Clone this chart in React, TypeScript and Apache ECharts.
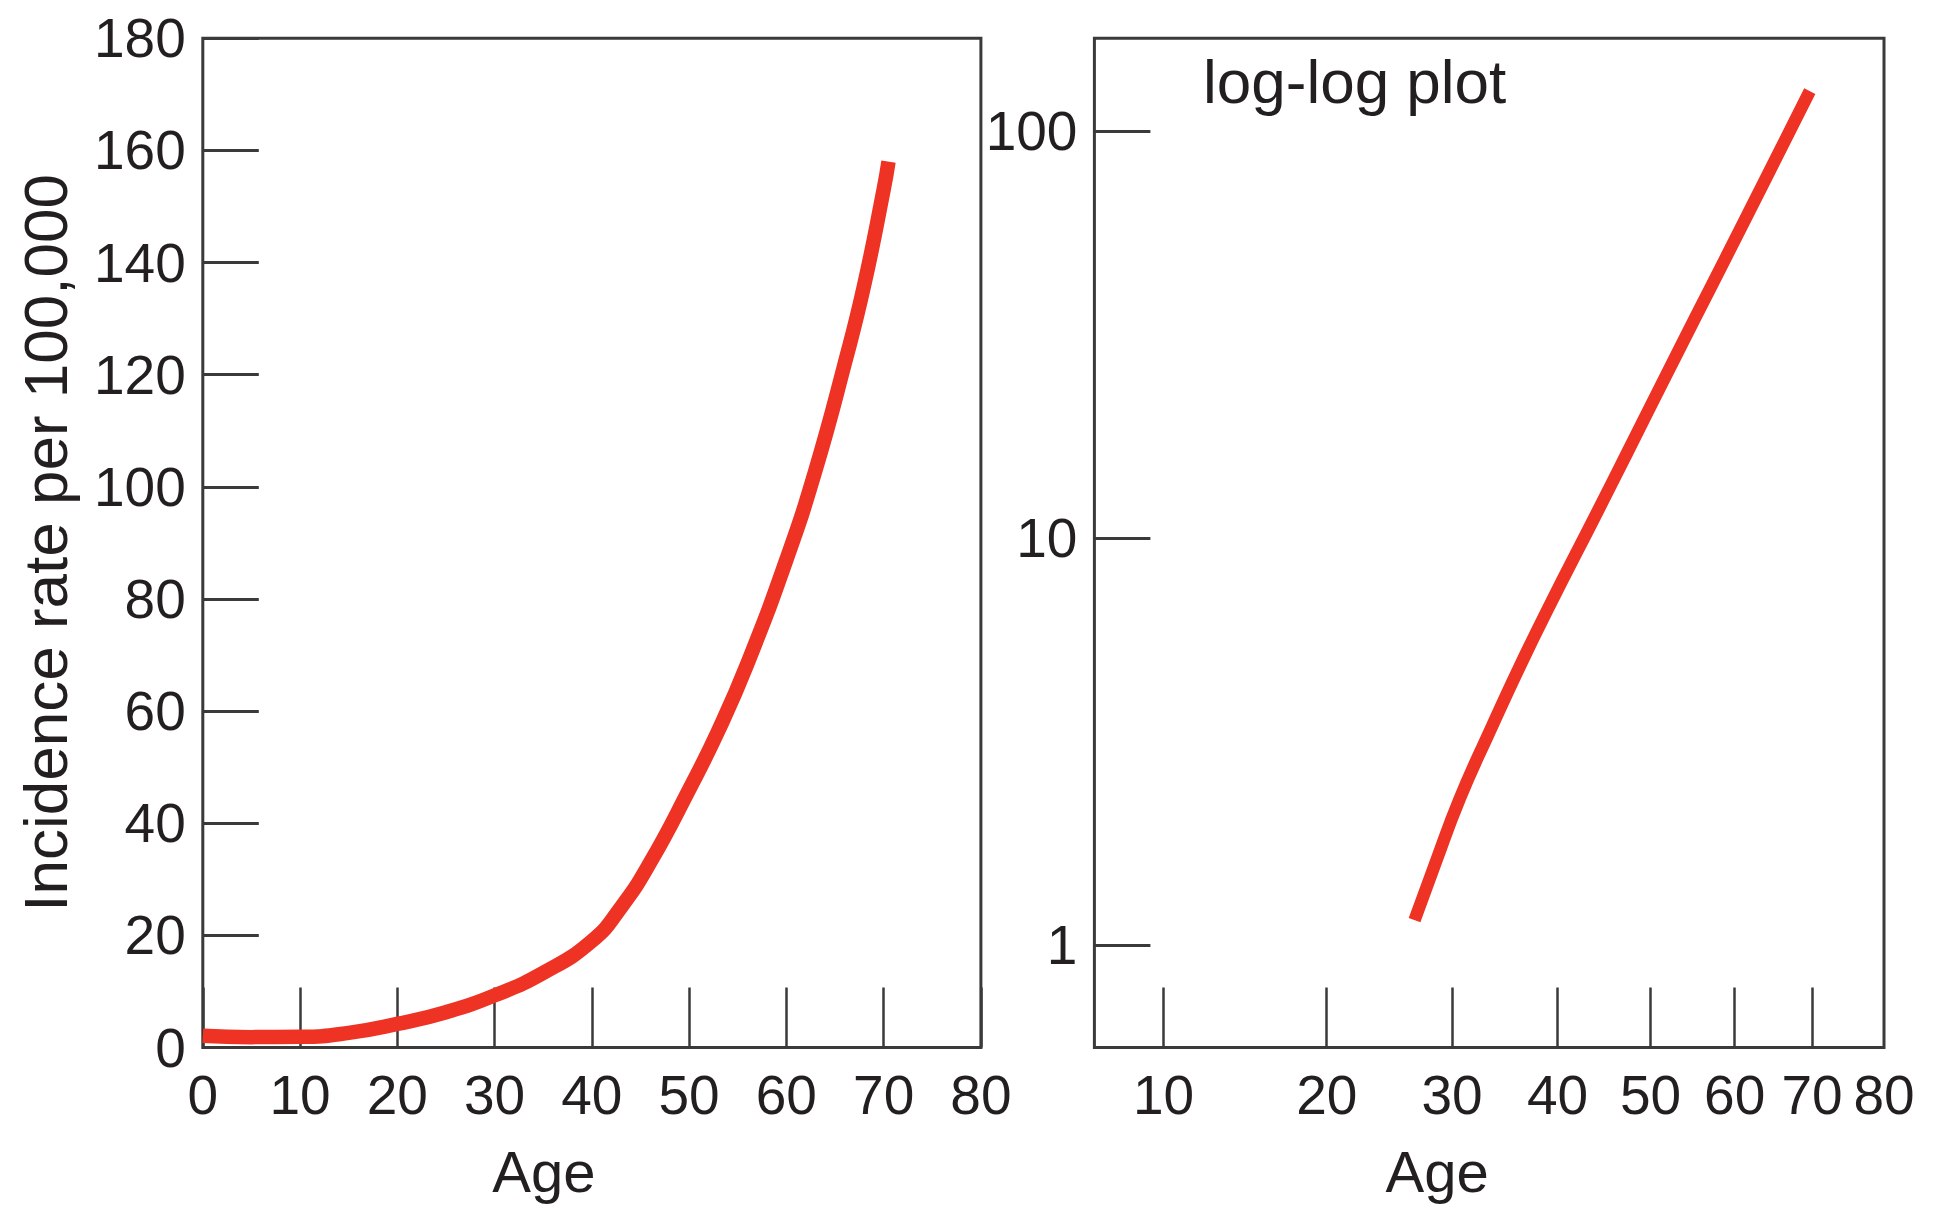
import React, { useEffect, useRef } from "react";
import * as echarts from "echarts";

// ---- Data ----
// Left panel: linear axes
const leftAges = [0, 5, 10, 15, 20, 25, 30, 35, 40, 43, 46, 50, 53, 56, 60, 63, 66, 68, 70, 70.5];
const leftRates = [2.1, 1.85, 1.9, 2.6, 4.2, 6.3, 9.3, 13.3, 19.0, 25, 33, 46, 56.5, 68.5, 87, 103, 122, 136, 153, 158];
const leftXTicks = [0, 10, 20, 30, 40, 50, 60, 70, 80];
const leftYTicks = [0, 20, 40, 60, 80, 100, 120, 140, 160, 180];

// Right panel: "log-log plot" (hand-drawn age axis, log rate axis)
const rightAges = [26.8, 28.5, 30.7, 33.4, 36.3, 39.3, 43.9, 47.5, 51.1, 55.2, 59.2, 64.3, 69.7];
const rightRates = [1.15, 1.57, 2.29, 3.34, 4.86, 6.9, 11.3, 16.4, 23.5, 34.8, 50.2, 79, 125.5];
const rightXTickAges = [10, 20, 30, 40, 50, 60, 70];
const rightXLabelAges = [10, 20, 30, 40, 50, 60, 70, 80];
const rightYTicks = [1, 10, 100];

const FONT = "'Liberation Sans', Arial, Helvetica, sans-serif";
const TEXT = "#231f20";
const AXIS = "#3a3a3a";
const RED = "#ee3224";

// the right panel's age axis is drawn on a square-root spacing
const ageScale = (a: number) => Math.sqrt(a);

export default function App() {
  const ref = useRef<HTMLDivElement>(null);

  useEffect(() => {
    if (!ref.current) return;
    const chart = echarts.init(ref.current, null, { renderer: "svg" });

    const gridTop = 38.3;
    const gridHeight = 1011.2;

    const labelStyle = {
      fontFamily: FONT,
      fontSize: 55,
      color: TEXT,
    };

    const option: any = {
      animation: false,
      backgroundColor: "#ffffff",
      grid: [
        {
          left: 202.8,
          top: gridTop,
          width: 778.1,
          height: gridHeight,
          show: true,
          borderColor: AXIS,
          borderWidth: 3,
          backgroundColor: "transparent",
          containLabel: false,
        },
        {
          left: 1094.4,
          top: gridTop,
          width: 789.6,
          height: gridHeight,
          show: true,
          borderColor: AXIS,
          borderWidth: 3,
          backgroundColor: "transparent",
          containLabel: false,
        },
      ],
      xAxis: [
        {
          type: "value",
          gridIndex: 0,
          min: leftXTicks[0],
          max: leftXTicks[leftXTicks.length - 1],
          interval: 10,
          name: "Age",
          nameLocation: "middle",
          nameGap: 94.5,
          nameTextStyle: { fontFamily: FONT, fontSize: 58, color: TEXT, padding: [0, 96, 0, 0] },
          axisLine: { show: false },
          axisTick: { show: true, inside: true, length: 60, lineStyle: { color: AXIS, width: 2.5 } },
          axisLabel: { ...labelStyle, margin: 20 },
          splitLine: { show: false },
        },
        {
          type: "value",
          gridIndex: 1,
          min: ageScale(6.8),
          max: ageScale(80),
          name: "Age",
          nameLocation: "middle",
          nameGap: 94.5,
          nameTextStyle: { fontFamily: FONT, fontSize: 58, color: TEXT, padding: [0, 104, 0, 0] },
          axisLine: { show: false },
          axisTick: {
            show: true,
            inside: true,
            length: 60,
            lineStyle: { color: AXIS, width: 2.5 },
            customValues: rightXTickAges.map(ageScale),
          },
          axisLabel: {
            ...labelStyle,
            margin: 20,
            customValues: rightXLabelAges.map(ageScale),
            formatter: (v: number) => String(Math.round(v * v)),
          },
          splitLine: { show: false },
        },
      ],
      yAxis: [
        {
          type: "value",
          gridIndex: 0,
          min: leftYTicks[0],
          max: leftYTicks[leftYTicks.length - 1],
          interval: 20,
          name: "Incidence rate per 100,000",
          nameLocation: "middle",
          nameGap: 126.6,
          nameTextStyle: { fontFamily: FONT, fontSize: 62, color: TEXT },
          axisLine: { show: false },
          axisTick: { show: true, inside: true, length: 56, lineStyle: { color: AXIS, width: 3 } },
          axisLabel: { ...labelStyle, margin: 17 },
          splitLine: { show: false },
        },
        {
          type: "log",
          logBase: 10,
          gridIndex: 1,
          min: 0.559,
          max: 169.2,
          axisLine: { show: false },
          axisTick: { show: true, inside: true, length: 56, lineStyle: { color: AXIS, width: 3 } },
          axisLabel: {
            ...labelStyle,
            margin: 17,
            showMinLabel: false,
            showMaxLabel: false,
            formatter: (v: number) => (rightYTicks.indexOf(Math.round(v)) >= 0 ? String(Math.round(v)) : ""),
          },
          splitLine: { show: false },
        },
      ],
      graphic: [
        {
          type: "text",
          left: 1203,
          top: 50,
          style: {
            text: "log-log plot",
            font: `62px ${FONT}`,
            fill: TEXT,
          },
        },
      ],
      series: [
        {
          type: "line",
          xAxisIndex: 0,
          yAxisIndex: 0,
          data: leftAges.map((a, i) => [a, leftRates[i]]),
          smooth: 0.5,
          showSymbol: false,
          symbol: "none",
          lineStyle: { color: RED, width: 14.5, cap: "butt", join: "round" },
          z: 1,
        },
        {
          type: "line",
          xAxisIndex: 1,
          yAxisIndex: 1,
          data: rightAges.map((a, i) => [ageScale(a), rightRates[i]]),
          smooth: 0.5,
          showSymbol: false,
          symbol: "none",
          lineStyle: { color: RED, width: 12.5, cap: "butt", join: "round" },
          z: 1,
        },
      ],
    };

    chart.setOption(option);
    return () => chart.dispose();
  }, []);

  return (
    <div
      ref={ref}
      style={{ position: "fixed", left: 0, top: 0, width: 1943, height: 1205, background: "#fff" }}
    />
  );
}
